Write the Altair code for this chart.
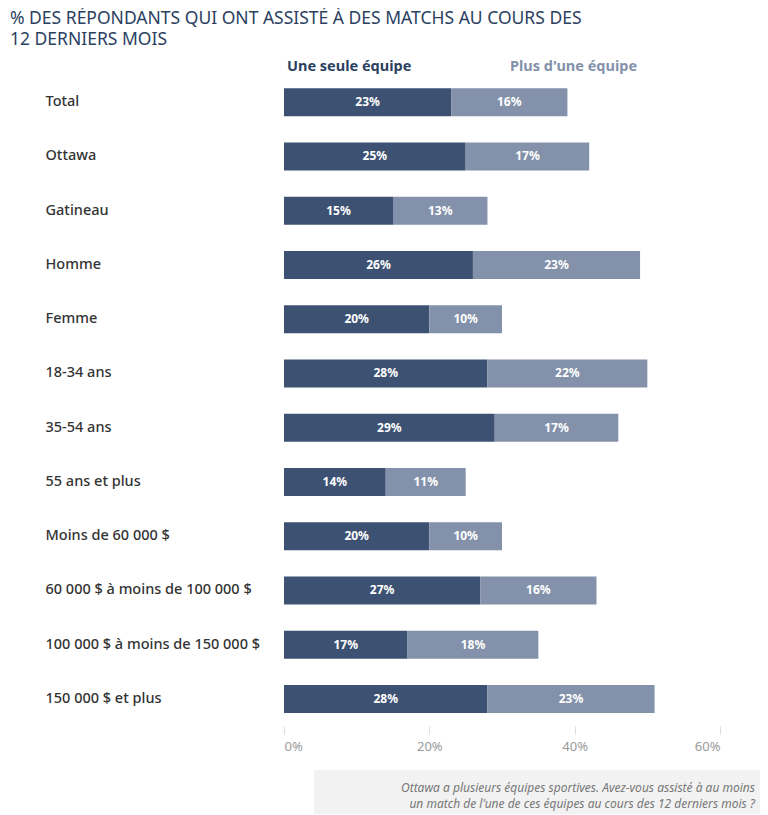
import altair as alt
import pandas as pd

categories = ["Total", "Ottawa", "Gatineau", "Homme", "Femme", "18-34 ans", "35-54 ans",
              "55 ans et plus", "Moins de 60 000 $", "60 000 $ à moins de 100 000 $",
              "100 000 $ à moins de 150 000 $", "150 000 $ et plus"]
une_seule = [23, 25, 15, 26, 20, 28, 29, 14, 20, 27, 17, 28]
plus_une = [16, 17, 13, 23, 10, 22, 17, 11, 10, 16, 18, 23]
series = ["Une seule équipe", "Plus d'une équipe"]
colors = ["#3d5273", "#8392aa"]

rows = []
for c, a, b in zip(categories, une_seule, plus_une):
    rows.append({"cat": c, "serie": series[0], "start": 0, "end": a, "mid": a / 2, "val": a})
    rows.append({"cat": c, "serie": series[1], "start": a, "end": a + b, "mid": a + b / 2, "val": b})
df = pd.DataFrame(rows)
df["label"] = df["val"].astype(str) + "%"

FONT = "Noto Sans"

bars = alt.Chart(df).mark_bar(size=28).encode(
    x=alt.X("start:Q", scale=alt.Scale(domain=[0, 60]),
            axis=alt.Axis(values=[0, 20, 40, 60], labelExpr="datum.value + '%'", grid=False,
                          domain=False, ticks=True, tickColor="#ddd", tickSize=8,
                          labelColor="#999", labelFont=FONT, labelFontSize=13,
                          labelPadding=6, title=None)),
    x2="end:Q",
    y=alt.Y("cat:N", sort=categories,
            axis=alt.Axis(title=None, domain=False, ticks=False, labelAlign="left",
                          labelPadding=239, labelFont=FONT, labelFontSize=14.5,
                          labelFontWeight=500, labelColor="#333", labelLimit=300)),
    color=alt.Color("serie:N", scale=alt.Scale(domain=series, range=colors), legend=None),
)

labels = alt.Chart(df).mark_text(color="white", fontWeight="bold", font=FONT, fontSize=12).encode(
    x="mid:Q", y=alt.Y("cat:N", sort=categories), text="label:N"
)

title = pd.DataFrame({"t": ["% DES RÉPONDANTS QUI ONT ASSISTÉ À DES MATCHS AU COURS DES",
                            "12 DERNIERS MOIS"], "yy": [-56, -35]})
title_mark = alt.Chart(title).mark_text(align="left", font=FONT, fontSize=17.5, color="#2b3f5f").encode(
    x=alt.value(-274), y=alt.Y("yy:Q", scale=None), text="t:N"
)

heads = pd.DataFrame({"t": series, "xx": [3, 226], "c": ["#2b3f5f", "#8392aa"]})
head_mark = alt.Chart(heads).mark_text(align="left", font=FONT, fontSize=14.5, fontWeight="bold").encode(
    x=alt.X("xx:Q", scale=None), y=alt.value(-8), text="t:N", color=alt.Color("c:N", scale=None)
)

band = alt.Chart(pd.DataFrame({"a": [1]})).mark_rect(color="#f2f2f2").encode(
    x=alt.value(30), x2=alt.value(484), y=alt.value(695), y2=alt.value(742)
)
note = pd.DataFrame({"t": ["Ottawa a plusieurs équipes sportives. Avez-vous assisté à au moins",
                           "un match de l'une de ces équipes au cours des 12 derniers mois ?"],
                     "yy": [713, 729]})
note_mark = alt.Chart(note).mark_text(align="right", font=FONT, fontSize=12, fontStyle="italic",
                                      color="#777").encode(
    x=alt.value(471), y=alt.Y("yy:Q", scale=None), text="t:N"
)

chart = alt.layer(band, bars, labels, title_mark, head_mark, note_mark).properties(
    width=436, height=651,
    autosize=alt.AutoSizeParams(type="none"),
    padding={"left": 276, "top": 67, "right": 40, "bottom": 88},
    background="white",
).configure_view(stroke=None).configure_scale(bandPaddingInner=0.48)

chart.save("out.html", embed_options={"renderer": "svg", "actions": False})
